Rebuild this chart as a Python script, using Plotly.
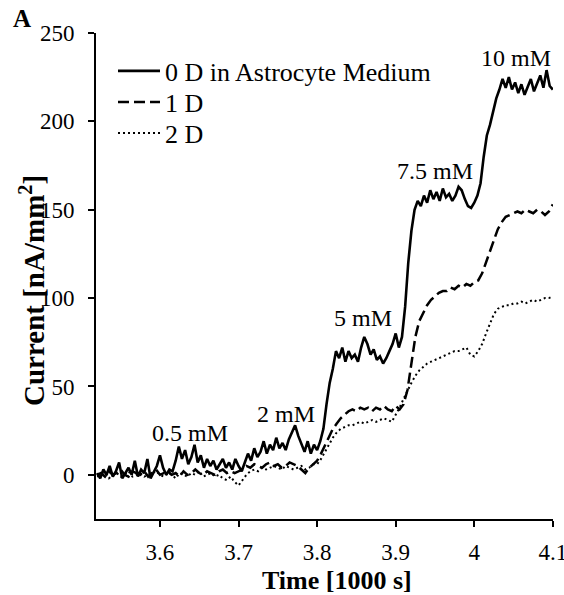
import numpy as np
import plotly.graph_objects as go

# Sampling times (1000 s)
time_solid = np.round(3.52 + 0.004 * np.arange(146), 4)
time_smooth = np.round(3.52 + 0.005 * np.arange(117), 4)

# 0 D in Astrocyte Medium (nA/mm^2)
current_0d = [
    1, -2, 3, 0, 5, -1, 2, 7, -2, 1, 4, 0, 8, -1, 3, 1, 9, -2, 2, 5,
    11, 4, 0, 3, 2, 8, 16, 9, 14, 6, 10, 17, 7, 11, 4, 9, 5, 8, 3, 6,
    9, 4, 7, 3, 9, 5, 2, 7, 12, 8, 15, 10, 13, 19, 12, 17, 14, 21, 15, 18,
    14, 20, 24, 28, 22, 17, 13, 19, 12, 17, 14, 19, 26, 40, 52, 60, 70, 66, 72, 64,
    70, 66, 68, 64, 72, 78, 74, 68, 71, 65, 67, 63, 66, 70, 74, 80, 72, 78, 95, 120,
    138, 150, 155, 152, 158, 154, 161, 156, 160, 155, 162, 157, 159, 155, 158, 163, 161, 156, 152, 151,
    154, 158, 165, 180, 192, 198, 206, 213, 218, 224, 219, 225, 218, 222, 216, 221, 215, 219, 224, 217,
    222, 226, 219, 229, 220, 218,
]

# 1 D
current_1d = [
    0, 1, -1, 2, 0, 1, 3, 0, -1, 2, 1, 0, 2, -1, 1, 3, 0, 1, 2, 0,
    1, -1, 2, 0, 1, 3, 1, 0, 2, 1, 0, 2, 3, 1, 2, 1,
    2, 3, 5, 4, 6, 5, 4, 6, 7, 5, 6, 4, 5, 7, 6, 5, 3, 1, 4, 6,
    8, 12, 17, 22, 26, 29, 32, 34, 36, 37, 36, 38, 37, 38, 36, 38, 37, 39, 37, 36,
    39, 37, 40, 48, 62, 78, 87, 92, 96, 99, 101, 103, 104, 104, 106, 105, 107, 106, 108, 107,
    109, 110, 114, 120, 127, 133, 139, 143, 146, 147, 148, 149, 148, 150, 149, 148, 150, 149, 147, 149,
    153,
]

# 2 D
current_2d = [
    -1, 0, 1, -2, 0, 1, -1, 0, 2, -1, 0, 1, -1, 0, 1, 2, 0, -1, 1, 0,
    -2, 1, 0, -1, 1, 0, 2, -1, 0, 1, -1, 0, -2, -3, -1, -4,
    -6, -3, 0, 2, 3, 2, 4, 3, 4, 5, 4, 3, 5, 4, 3, 4, 5, 3, 4, 6,
    6, 9, 13, 17, 21, 24, 26, 27, 28, 28, 29, 30, 29, 30, 31, 30, 31, 32, 31, 30,
    34, 38, 43, 48, 52, 56, 59, 61, 63, 64, 65, 66, 67, 68, 69, 70, 70, 71, 72, 68,
    67, 70, 74, 80, 86, 91, 94, 95, 96, 96, 97, 97, 98, 97, 98, 99, 98, 99, 100, 100,
    101,
]

series_names = ["0 D in Astrocyte Medium", "1 D", "2 D"]

step_labels = ["0.5 mM", "2 mM", "5 mM", "7.5 mM", "10 mM"]
step_x = [3.638, 3.761, 3.858, 3.950, 4.053]
step_y = [23.7, 34.5, 89, 172, 236]

x_ticks = [3.6, 3.7, 3.8, 3.9, 4.0, 4.1]
x_tick_text = ["3.6", "3.7", "3.8", "3.9", "4", "4.1"]
y_ticks = [0, 50, 100, 150, 200, 250]

FONT = "Liberation Serif, Times New Roman, serif"

# plot area in pixels
L, R, T, B = 96, 11, 33, 76
PW, PH = 564 - L - R, 595 - T - B


def px_x(p):
    return (p - L) / PW


def px_y(p):
    return 1 - (p - T) / PH


fig = go.Figure()
fig.add_trace(go.Scatter(x=time_solid, y=current_0d, mode="lines", name=series_names[0],
                         legend="legend",
                         line=dict(color="black", width=2.6)))
fig.add_trace(go.Scatter(x=time_smooth, y=current_1d, mode="lines", name=series_names[1],
                         legend="legend2",
                         line=dict(color="black", width=2.5, dash="11px,5px")))
fig.add_trace(go.Scatter(x=time_smooth, y=current_2d, mode="lines", name=series_names[2],
                         legend="legend3",
                         line=dict(color="black", width=2, dash="2px,3px")))

for lab, xx, yy in zip(step_labels, step_x, step_y):
    fig.add_annotation(x=xx, y=yy, text=lab, showarrow=False, xref="x", yref="y",
                       xanchor="center", yanchor="middle",
                       font=dict(family=FONT, size=24, color="black"))

# Axis titles and panel label
fig.add_annotation(x=px_x(337), y=px_y(580), xref="paper", yref="paper",
                   xanchor="center", yanchor="middle",
                   text="<b>Time [1000 s]</b>", showarrow=False,
                   font=dict(family=FONT, size=26, color="black"))
fig.add_annotation(x=px_x(32), y=px_y(291), xref="paper", yref="paper",
                   xanchor="center", yanchor="middle",
                   text="<b>Current [nA/mm<sup>2</sup>]</b>", showarrow=False, textangle=-90,
                   font=dict(family=FONT, size=29, color="black"))
fig.add_annotation(x=px_x(22), y=px_y(18), xref="paper", yref="paper",
                   xanchor="center", yanchor="middle",
                   text="<b>A</b>", showarrow=False,
                   font=dict(family=FONT, size=25, color="black"))

leg_common = dict(xanchor="left", yanchor="middle", bgcolor="rgba(0,0,0,0)",
                  font=dict(family=FONT, size=26, color="black"), itemwidth=42,
                  borderwidth=0)

fig.update_layout(
    width=564, height=595,
    margin=dict(l=L, r=R, t=T, b=B, autoexpand=False),
    paper_bgcolor="white", plot_bgcolor="white",
    font=dict(family=FONT, color="black"),
    showlegend=True,
    legend=dict(x=px_x(113), y=px_y(71), **leg_common),
    legend2=dict(x=px_x(113), y=px_y(102), **leg_common),
    legend3=dict(x=px_x(113), y=px_y(133), **leg_common),
    xaxis=dict(range=[3.5186, 4.1002], tickvals=x_ticks, ticktext=x_tick_text,
               showgrid=False, zeroline=False, showline=True, linecolor="black", linewidth=2,
               ticks="outside", ticklen=6, tickwidth=2, tickcolor="black",
               tickfont=dict(family=FONT, size=23, color="black"), ticklabelstandoff=5,
               ticklabeloverflow="allow", automargin=False),
    yaxis=dict(range=[-25, 250], tickvals=y_ticks,
               showgrid=False, zeroline=False, showline=True, linecolor="black", linewidth=2,
               ticks="outside", ticklen=6, tickwidth=2, tickcolor="black",
               tickfont=dict(family=FONT, size=23, color="black"), ticklabelstandoff=9,
               automargin=False),
)

fig.write_html("out.html", config={"displayModeBar": False},
               post_script="document.body.style.margin='0';document.body.style.overflow='hidden';")
